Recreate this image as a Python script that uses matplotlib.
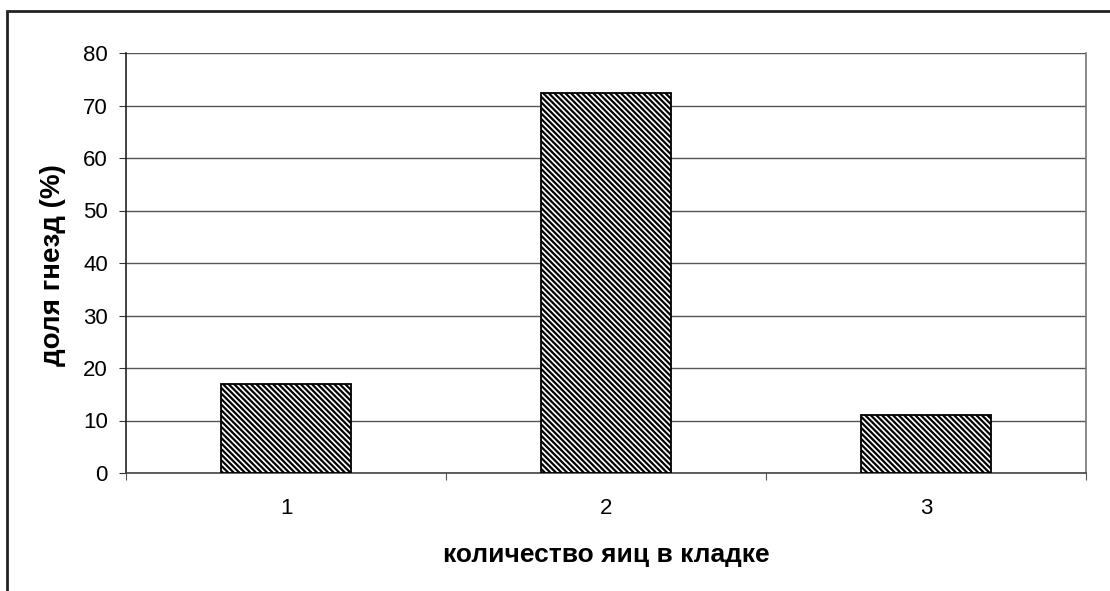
import matplotlib.pyplot as plt
from matplotlib.patches import Rectangle
from matplotlib.ticker import FixedLocator, NullFormatter, FixedFormatter

plt.rcParams['font.family'] = ['Liberation Sans', 'DejaVu Sans']
plt.rcParams['hatch.linewidth'] = 1.6

# Data
categories = ['1', '2', '3']
shares = [17.0, 72.4, 11.0]
y_ticks = [0, 10, 20, 30, 40, 50, 60, 70, 80]

W, H = 1110, 591
fig = plt.figure(figsize=(W / 100, H / 100), dpi=100)

# outer chart frame (cut off on the right and bottom)
fig.patches.append(Rectangle((7 / W, -0.05), 1.2, 1 - 11 / H + 0.05,
                             transform=fig.transFigure, fill=False,
                             edgecolor='#222222', linewidth=2))

ax = fig.add_axes([126 / W, 1 - 473 / H, (1086 - 126) / W, (473 - 53) / H])

x = list(range(len(categories)))
ax.bar(x, shares, width=0.405, color='white', edgecolor='black',
       hatch='\\' * 6, linewidth=1.3, zorder=3)

ax.set_xlim(-0.5, len(categories) - 0.5)
ax.set_ylim(0, 80)

ax.set_yticks(y_ticks)
ax.yaxis.grid(True, color='#555555', linewidth=1.0)
ax.set_axisbelow(True)

# category ticks sit between the bars, labels in the middle
ax.xaxis.set_major_locator(FixedLocator([-0.5, 0.5, 1.5, 2.5]))
ax.xaxis.set_major_formatter(NullFormatter())
ax.xaxis.set_minor_locator(FixedLocator(x))
ax.xaxis.set_minor_formatter(FixedFormatter(categories))
ax.tick_params(axis='x', which='minor', length=0, pad=18, labelsize=16)
ax.tick_params(axis='x', which='major', direction='out', length=5,
               color='#555555')
ax.tick_params(axis='y', direction='out', length=5, labelsize=16, pad=8,
               color='#333333')

ax.spines['top'].set_visible(False)
ax.spines['right'].set_color('#777777')
ax.spines['left'].set_color('#222222')
ax.spines['bottom'].set_color('#444444')
for s in ax.spines.values():
    s.set_linewidth(1.2)

ax.set_xlabel('количество яиц в кладке', fontsize=19, fontweight='bold')
ax.set_ylabel('доля гнезд (%)', fontsize=20, fontweight='bold')
ax.xaxis.set_label_coords(0.5, -(555 - 473) / (473 - 53))
ax.yaxis.set_label_coords(-(126 - 53) / (1086 - 126), (473 - 265) / (473 - 53))
ax.xaxis.label.set_va('center')
ax.yaxis.label.set_va('center')

fig.savefig('out.png', dpi=100)
